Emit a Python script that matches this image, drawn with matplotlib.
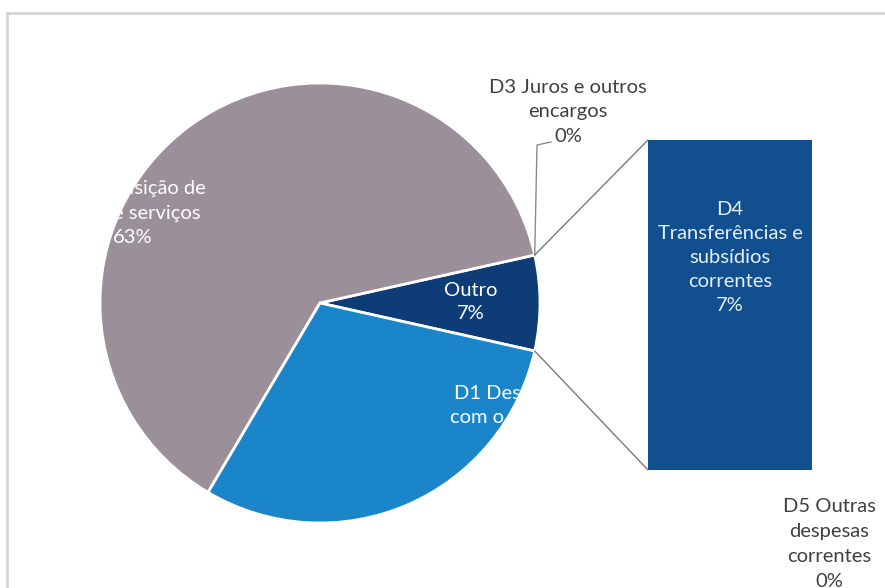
import matplotlib
matplotlib.use("Agg")
import matplotlib.pyplot as plt
import numpy as np
from matplotlib.patches import ConnectionPatch
from matplotlib.lines import Line2D

plt.rcParams['font.family'] = ['Lato', 'DejaVu Sans']

# main pie: "Outro" groups the items shown in the bar
pie_labels = ["Outro", "D2 Aquisição de\nbens e serviços", "D1 Despesas\ncom o pessoal"]
pie_values = [7, 63, 30]
pie_colors = ["#0d3c76", "#9b9099", "#1a86c9"]

# secondary bar (bottom to top)
bar_labels = ["D5 Outras\ndespesas\ncorrentes", "D4\nTransferências e\nsubsídios\ncorrentes", "D3 Juros e outros\nencargos"]
bar_values = [0, 7, 0]
bar_color = "#124f8e"

W, H = 885, 588
fig = plt.figure(figsize=(W / 100, H / 100), dpi=100)

# chart frame (left and top edges visible)
fig.add_artist(Line2D([7 / W, 7 / W], [0, 1 - 13 / H], transform=fig.transFigure, color="#d6d6d6", lw=2))
fig.add_artist(Line2D([7 / W, 1], [1 - 13 / H, 1 - 13 / H], transform=fig.transFigure, color="#d6d6d6", lw=2))

# pie axes: centre (320, 303) px, radius 220 px
cx, cy, r = 320, 303, 220
ax = fig.add_axes([(cx - r) / W, (H - cy - r) / H, 2 * r / W, 2 * r / H])
start = -pie_values[0] / sum(pie_values) * 360 / 2
wedges, _ = ax.pie(pie_values, colors=pie_colors, startangle=start, counterclock=True,
                   wedgeprops=dict(edgecolor="white", linewidth=2))
ax.set_xlim(-1, 1)
ax.set_ylim(-1, 1)
ax.set_aspect("equal")


def px(x, y):
    return (x - cx) / r, (cy - y) / r


tk = dict(color="white", ha="center", va="center", fontsize=14.5, linespacing=1.55)
pct = [f"{v}%" for v in pie_values]
ax.text(*px(471, 302), f"{pie_labels[0]}\n{pct[0]}", color="white", ha="center", va="center",
        fontsize=14.5, linespacing=1.4)
ax.text(*px(133, 213), f"{pie_labels[1]}\n{pct[1]}", **tk)
ax.text(*px(512, 418), f"{pie_labels[2]}\n{pct[2]}", **tk)

# bar axes
bx0, bx1, by0, by1 = 648, 812, 140, 470
bax = fig.add_axes([bx0 / W, (H - by1) / H, (bx1 - bx0) / W, (by1 - by0) / H])
bottom = 0
for v in bar_values:
    bax.bar([0], [v], bottom=bottom, width=1, color=bar_color, edgecolor="none")
    bottom += v
bax.set_xlim(-0.5, 0.5)
bax.set_ylim(0, sum(bar_values))
bax.axis("off")

bax.text(0, 4.5, f"{bar_labels[1]}\n{bar_values[1]}%", color="#e6eef8", ha="center", va="center",
         fontsize=14.5, linespacing=1.5)

# connectors from the "Outro" wedge to the bar
t1 = np.deg2rad(wedges[0].theta2)
t0 = np.deg2rad(wedges[0].theta1)
for (th, yb) in [(t1, sum(bar_values)), (t0, 0)]:
    con = ConnectionPatch(xyA=(np.cos(th), np.sin(th)), coordsA=ax.transData,
                          xyB=(-0.5, yb), coordsB=bax.transData, color="#7a7a7a", lw=1)
    fig.add_artist(con)

# outside labels for the zero items
gk = dict(color="#404040", ha="center", va="center", fontsize=14.5, linespacing=1.55)
ax.text(*px(568, 112), f"{bar_labels[2]}\n{bar_values[2]}%", **gk)
ax.plot([px(551, 142)[0], px(537, 145)[0], np.cos(t1)],
        [px(551, 142)[1], px(537, 145)[1], np.sin(t1)], color="#8a8a8a", lw=1, clip_on=False)
fig.text(829 / W, 1 - 544 / H, f"{bar_labels[0]}\n{bar_values[0]}%", **gk)

fig.savefig("out.png", dpi=100)
